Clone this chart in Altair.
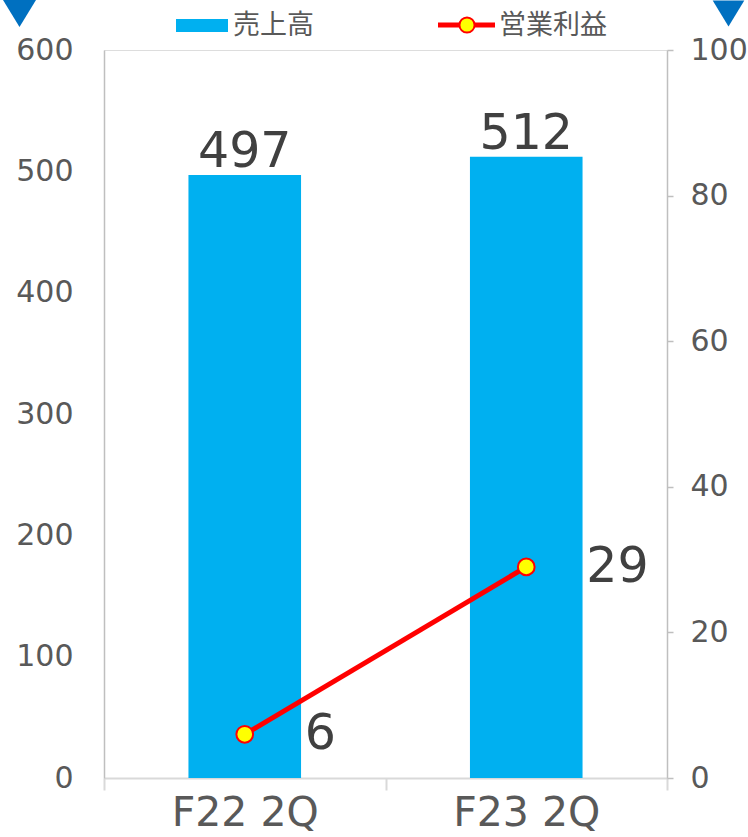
import altair as alt
import pandas as pd

categories = ["F22 2Q", "F23 2Q"]
sales = [497, 512]
op_profit = [6, 29]
series_names = ["売上高", "営業利益"]
left_ticks = [0, 100, 200, 300, 400, 500, 600]
right_ticks = [0, 20, 40, 60, 80, 100]

FONT = "DejaVu Sans"
CJK = "Noto Sans CJK JP"
df = pd.DataFrame({"cat": categories, "sales": sales, "op": op_profit})

x_enc = alt.X(
    "cat:N", sort=categories, title=None,
    scale=alt.Scale(paddingInner=0, paddingOuter=0),
    axis=alt.Axis(labelAngle=0, labelFontSize=41, labelColor="#595959", labelFont=FONT,
                  domainColor="#D9D9D9", domainWidth=2, tickBand="extent",
                  tickColor="#D9D9D9", tickWidth=2, tickSize=12, labelPadding=3, grid=False),
)
left_axis = alt.Axis(values=left_ticks, ticks=False, labelFontSize=30, labelColor="#595959",
                     labelFont=FONT, domainColor="#BFBFBF", domainWidth=1.5, labelPadding=31,
                     grid=False, title=None)
right_axis = alt.Axis(orient="right", values=right_ticks, ticks=True, tickSize=6,
                      tickColor="#BFBFBF", tickWidth=1.5, labelFontSize=30, labelColor="#595959",
                      labelFont=FONT, domainColor="#BFBFBF", domainWidth=1.5, labelPadding=17,
                      grid=False, title=None)
y_left = alt.Y("sales:Q", scale=alt.Scale(domain=[0, 600], nice=False), axis=left_axis)
y_right = alt.Y("op:Q", scale=alt.Scale(domain=[0, 100], nice=False), axis=right_axis)

base = alt.Chart(df)
bars = base.mark_bar(color="#00B0F0", width=alt.RelativeBandSize(0.4)).encode(x=x_enc, y=y_left)
bar_text = base.mark_text(fontSize=49, font=FONT, color="#404040", baseline="alphabetic", dy=-8).encode(
    x=x_enc, y=y_left, text="sales:Q")
left_group = alt.layer(bars, bar_text)

line = base.mark_line(color="#FF0000", strokeWidth=5).encode(x=x_enc, y=y_right)
pts = base.mark_point(filled=True, fill="#FFFF00", stroke="#FF0000", strokeWidth=2,
                      size=280, opacity=1, shape="circle").encode(x=x_enc, y=y_right)
line_text = base.mark_text(fontSize=49, font=FONT, color="#404040", align="left",
                           baseline="middle", dx=60).encode(x=x_enc, y=y_right, text="op:Q")
right_group = alt.layer(line, pts, line_text)

# legend
leg1 = pd.DataFrame({"name": [series_names[0]]})
leg2 = pd.DataFrame({"name": [series_names[1]]})
leg_rect = alt.Chart(leg1).mark_rect(color="#00B0F0").encode(
    x=alt.value(72), x2=alt.value(124), y=alt.value(-31), y2=alt.value(-18))
leg_text1 = alt.Chart(leg1).mark_text(align="left", baseline="middle", fontSize=27, font=CJK,
                                      color="#595959").encode(x=alt.value(129), y=alt.value(-24), text="name:N")
leg_line = alt.Chart(leg2).mark_rule(color="#FF0000", strokeWidth=5).encode(
    x=alt.value(334), x2=alt.value(391), y=alt.value(-25))
leg_pt = alt.Chart(leg2).mark_point(filled=True, fill="#FFFF00", stroke="#FF0000", strokeWidth=2,
                                    size=230, opacity=1, shape="circle").encode(
    x=alt.value(363), y=alt.value(-25))
leg_text2 = alt.Chart(leg2).mark_text(align="left", baseline="middle", fontSize=27, font=CJK,
                                      color="#595959").encode(x=alt.value(395), y=alt.value(-24), text="name:N")

tri_path = "M-1,-0.82L1,-0.82L0,0.82Z"
tri_df = pd.DataFrame({"k": ["l", "r"]})
tri_l = alt.Chart(tri_df.iloc[[0]]).mark_point(filled=True, color="#0070C0", opacity=1,
                                              shape=tri_path, size=1089).encode(
    x=alt.value(-84.5), y=alt.value(-36.5))
tri_r = alt.Chart(tri_df.iloc[[1]]).mark_point(filled=True, color="#0070C0", opacity=1,
                                              shape=tri_path, size=1000).encode(
    x=alt.value(624.5), y=alt.value(-36.5))

main = alt.layer(left_group, right_group).resolve_scale(y="independent")
chart = alt.layer(main, leg_rect, leg_text1, leg_line, leg_pt, leg_text2, tri_l, tri_r).properties(
    width=563, height=728,
    autosize=alt.AutoSizeParams(type="none"),
    padding={"left": 104, "top": 50, "right": 81, "bottom": 59},
).configure_view(stroke=None).configure(background="white")

chart.save("out.html", embed_options={"renderer": "svg", "actions": False})
